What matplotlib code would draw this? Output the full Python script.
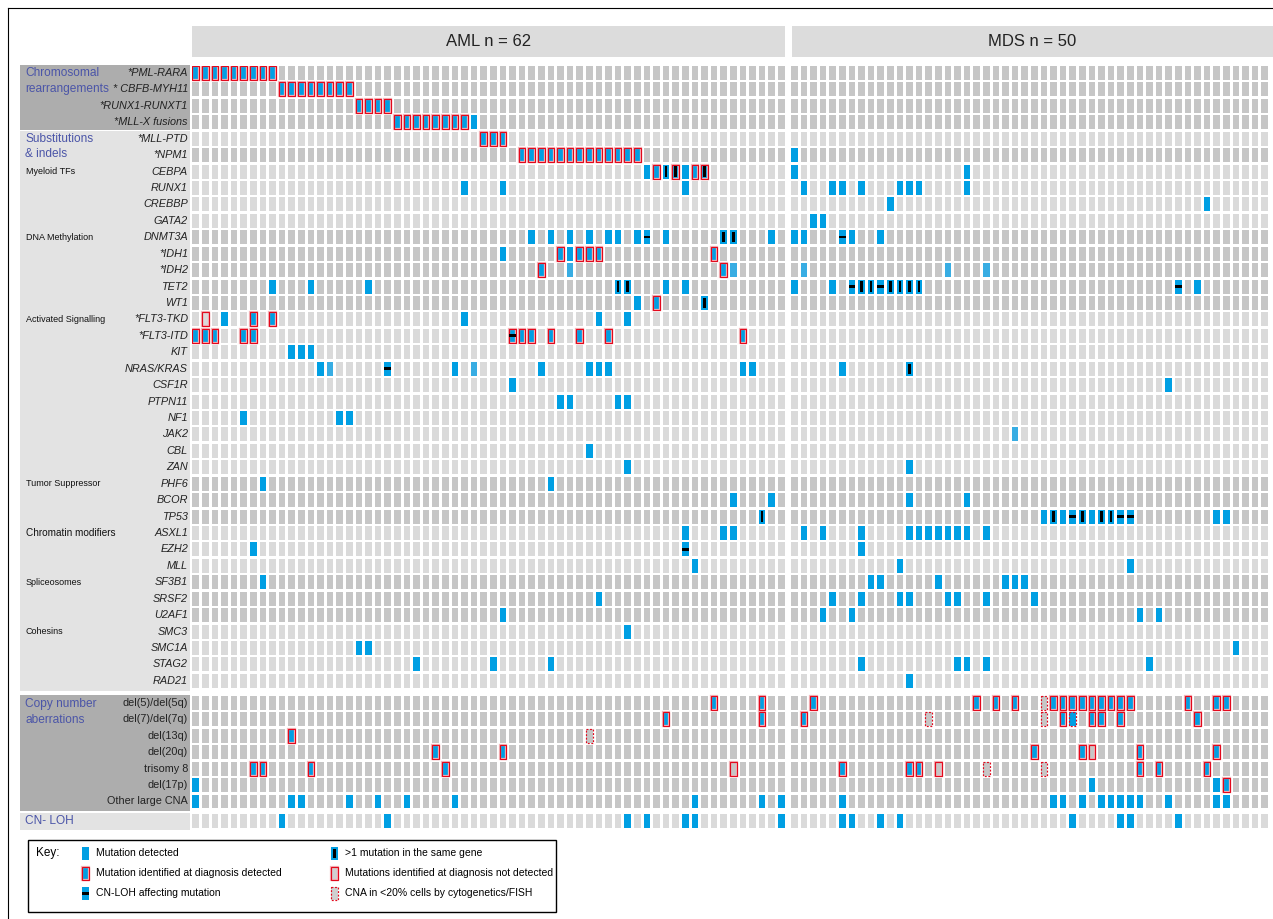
import matplotlib
matplotlib.use('Agg')
import matplotlib.pyplot as plt
from matplotlib.patches import Rectangle

plt.rcParams['font.family'] = ['Liberation Sans', 'DejaVu Sans']

# --- data -------------------------------------------------------------
# codes: b mutation, l mutation (pale), r detected at diagnosis, m >1 mutation,
# M r+m, h CN-LOH affecting mutation, H r+h, e identified at diagnosis not detected,
# d CNA in <20% cells, D d on a mutated cell
n_aml, n_mds = 62, 50

rearrangements = ['PML-RARA', 'CBFB-MYH11', 'RUNX1-RUNXT1', 'MLL-X fusions']
rearr_labels = ['*PML-RARA', '* CBFB-MYH11', '*RUNX1-RUNXT1', '*MLL-X fusions']

genes = ['MLL-PTD', 'NPM1', 'CEBPA', 'RUNX1', 'CREBBP', 'GATA2', 'DNMT3A', 'IDH1',
         'IDH2', 'TET2', 'WT1', 'FLT3-TKD', 'FLT3-ITD', 'KIT', 'NRAS/KRAS', 'CSF1R',
         'PTPN11', 'NF1', 'JAK2', 'CBL', 'ZAN', 'PHF6', 'BCOR', 'TP53', 'ASXL1',
         'EZH2', 'MLL', 'SF3B1', 'SRSF2', 'U2AF1', 'SMC3', 'SMC1A', 'STAG2', 'RAD21']
starred = ['MLL-PTD', 'NPM1', 'IDH1', 'IDH2', 'FLT3-TKD', 'FLT3-ITD']

cnas = ['del(5)/del(5q)', 'del(7)/del(7q)', 'del(13q)', 'del(20q)', 'trisomy 8',
        'del(17p)', 'Other large CNA']
cnloh = 'CN- LOH'

gene_groups = [('Myeloid TFs', 'CEBPA', 6.5), ('DNA Methylation', 'DNMT3A', 6.5),
               ('Activated Signalling', 'FLT3-TKD', 6.5), ('Tumor Suppressor', 'PHF6', 6.5),
               ('Chromatin modifiers', 'ASXL1', 7.2), ('Spliceosomes', 'SF3B1', 6.5),
               ('Cohesins', 'SMC3', 6.5)]

aml_calls = {
    'PML-RARA': 'r0-8',
    'CBFB-MYH11': 'r9-16',
    'RUNX1-RUNXT1': 'r17-20',
    'MLL-X fusions': 'r21-28 b29',
    'MLL-PTD': 'r30-32',
    'NPM1': 'r34-46',
    'CEBPA': 'b47 r48 m49 M50 b51 r52 M53',
    'RUNX1': 'b28 b32 b51',
    'DNMT3A': 'b35 b37 b39 b41 b43 b44 b46 h47 b49 m55 m56 b60',
    'IDH1': 'b32 r38 b39 r40-42 r54',
    'IDH2': 'r36 l39 r55 l56',
    'TET2': 'b8 b12 b18 m44 m45 b49 b51',
    'WT1': 'b46 r48 m53',
    'FLT3-TKD': 'e1 b3 r6 r8 b28 b42 b45',
    'FLT3-ITD': 'r0-2 r5 r6 H33 r34 r35 r37 r40 r43 r57',
    'KIT': 'b10-12',
    'NRAS/KRAS': 'b13 l14 h20 b27 l29 b36 b41-43 b57 b58',
    'CSF1R': 'b33',
    'PTPN11': 'b38 b39 b44 b45',
    'NF1': 'b5 b15 b16',
    'CBL': 'b41',
    'ZAN': 'b45',
    'PHF6': 'b7 b37',
    'BCOR': 'b56 b60',
    'TP53': 'm59',
    'ASXL1': 'b51 b55 b56',
    'EZH2': 'b6 h51',
    'MLL': 'b52',
    'SF3B1': 'b7',
    'SRSF2': 'b42',
    'U2AF1': 'b32',
    'SMC3': 'b45',
    'SMC1A': 'b17 b18',
    'STAG2': 'b23 b31 b37',
    'del(5)/del(5q)': 'r54 r59',
    'del(7)/del(7q)': 'r49 r59',
    'del(13q)': 'r10 d41',
    'del(20q)': 'r25 r32',
    'trisomy 8': 'r6 r7 r12 r26 e56',
    'del(17p)': 'b0',
    'Other large CNA': 'b0 b10 b11 b16 b19 b22 b27 b52 b59 b61',
    'CN- LOH': 'b9 b20 b45 b47 b51 b52 b61',
}

mds_calls = {
    'NPM1': 'b0',
    'CEBPA': 'b0 b18',
    'RUNX1': 'b1 b4 b5 b7 b11-13 b18',
    'CREBBP': 'b10 b43',
    'GATA2': 'b2 b3',
    'DNMT3A': 'b0 b1 h5 b6 b9',
    'IDH2': 'l1 l16 l20',
    'TET2': 'b0 b4 h6 m7 m8 h9 m10-13 h40 b42',
    'NRAS/KRAS': 'b5 m12',
    'CSF1R': 'b39',
    'JAK2': 'l23',
    'ZAN': 'b12',
    'BCOR': 'b12 b18',
    'TP53': 'b26 m27 b28 h29 m30 b31 m32 m33 h34 h35 b44 b45',
    'ASXL1': 'b1 b3 b7 b12-18 b20',
    'EZH2': 'b7',
    'MLL': 'b11 b35',
    'SF3B1': 'b8 b9 b15 b22-24',
    'SRSF2': 'b4 b7 b11 b12 b16 b17 b20 b25',
    'U2AF1': 'b3 b6 b36 b38',
    'SMC1A': 'b46',
    'STAG2': 'b7 b17 b18 b20 b37',
    'RAD21': 'b12',
    'del(5)/del(5q)': 'r2 r19 r21 r23 d26 r27-35 r41 r44 r45',
    'del(7)/del(7q)': 'r1 d14 d26 r28 D29 r31 r32 r34 r42',
    'del(20q)': 'r25 r30 e31 r36 r44',
    'trisomy 8': 'r5 r12 r13 e15 d20 d26 r36 r38 r43',
    'del(17p)': 'b31 b44 r45',
    'Other large CNA': 'b5 b27 b28 b30 b32-36 b39 b44 b45',
    'CN- LOH': 'b5 b6 b9 b11 b29 b34 b35 b40',
}

light_rows = ['MLL-PTD', 'CEBPA', 'RUNX1', 'CREBBP', 'GATA2', 'FLT3-TKD', 'FLT3-ITD',
              'KIT', 'NRAS/KRAS', 'CSF1R', 'PTPN11', 'NF1', 'JAK2', 'CBL', 'ZAN',
              'ASXL1', 'EZH2', 'MLL', 'SMC3', 'SMC1A', 'STAG2', 'RAD21', 'CN- LOH']

key_items = [('b', 'Mutation detected'), ('r', 'Mutation identified at diagnosis detected'),
             ('h', 'CN-LOH affecting mutation'), ('m', '>1 mutation in the same gene'),
             ('e', 'Mutations identified at diagnosis not detected'),
             ('d', 'CNA in <20% cells by cytogenetics/FISH')]

# --- styling ------------------------------------------------------------
BLUE, LBLUE = '#009FE3', '#38ADE3'
DARK, LIGHT = '#C6C6C6', '#DADADA'
RED, HALO = '#E2081C', '#F4B6BB'
PURPLE = '#4B55A8'


def parse(s):
    out = []
    for tok in s.split():
        code, rng = tok[0], tok[1:]
        if '-' in rng:
            a, b = map(int, rng.split('-'))
            out += [(c, code) for c in range(a, b + 1)]
        else:
            out.append((int(rng), code))
    return out


def draw_mark(a, x, y, w, h, code, base, lw=0.85):
    fill = BLUE if code in 'brmMhHD' else (LBLUE if code == 'l' else base)
    a.add_patch(Rectangle((x, y), w, h, facecolor=fill, edgecolor='none', zorder=2))
    if code in 'rMHe':
        a.add_patch(Rectangle((x, y), w, h, fill=False, edgecolor=HALO, lw=lw * 1.9, zorder=3))
        a.add_patch(Rectangle((x, y), w, h, fill=False, edgecolor=RED, lw=lw, zorder=4))
    if code in 'dD':
        a.add_patch(Rectangle((x, y), w, h, fill=False, edgecolor=RED, lw=lw,
                              linestyle=(0, (1.6, 1.4)), zorder=4))
    if code in 'mM':
        a.add_patch(Rectangle((x + 0.3 * w, y + 0.13 * h), 0.4 * w, 0.74 * h,
                              facecolor='black', edgecolor='none', zorder=5))
    if code in 'hH':
        a.add_patch(Rectangle((x, y + 0.4 * h), w, 0.18 * h,
                              facecolor='black', edgecolor='none', zorder=5))


# --- figure -------------------------------------------------------------
W, H = 1273, 919
fig = plt.figure(figsize=(W / 100, H / 100), dpi=100)
bg = fig.add_axes([0, 0, 1, 1])
bg.set_xlim(0, W)
bg.set_ylim(H, 0)
bg.axis('off')

X0, PX = 192.3, 9.6
Y0, PY = 66.0, 16.43
GAP = 0.36
XMAX = n_aml + GAP + n_mds
YMAX = 46.6
CW, CH = 0.7, 0.85
ax = fig.add_axes([X0 / W, 1 - (Y0 + PY * YMAX) / H, PX * XMAX / W, PY * YMAX / H])
ax.set_xlim(0, XMAX)
ax.set_ylim(YMAX, 0)
ax.axis('off')

rows = rearrangements + genes + cnas + [cnloh]


def row_pos(i):
    if i < 38:
        return i
    return i + 0.34 if i < 45 else i + 0.53


def row_px(i):
    return Y0 + PY * (row_pos(i) + CH / 2)


for i, name in enumerate(rows):
    base = LIGHT if name in light_rows else DARK
    y = row_pos(i)
    for cohort, n, calls, off in [('AML', n_aml, aml_calls, 0), ('MDS', n_mds, mds_calls, n_aml + GAP)]:
        hits = dict(parse(calls.get(name, '')))
        for c in range(n):
            code = hits.get(c)
            if code is None:
                ax.add_patch(Rectangle((off + c, y), CW, CH, facecolor=base, edgecolor='none', zorder=1))
            else:
                draw_mark(ax, off + c, y, CW, CH, code, base)

# header boxes
bg.add_patch(Rectangle((192, 26), 593, 31, facecolor='#DCDCDC', edgecolor='none'))
bg.add_patch(Rectangle((792, 26), 481, 31, facecolor='#DCDCDC', edgecolor='none'))
bg.text(488.5, 42, 'AML n = 62', ha='center', va='center', fontsize=12, color='#222222')
bg.text(1032, 42, 'MDS n = 50', ha='center', va='center', fontsize=12, color='#222222')

# left label panel
bg.add_patch(Rectangle((20, 65), 170, 65, facecolor='#ADADAD', edgecolor='none'))
bg.add_patch(Rectangle((20, 131), 170, 560, facecolor='#E3E3E3', edgecolor='none'))
bg.add_patch(Rectangle((20, 695), 170, 116, facecolor='#ADADAD', edgecolor='none'))
bg.add_patch(Rectangle((20, 813), 170, 17, facecolor='#E3E3E3', edgecolor='none'))

for txt, ty in [('Chromosomal', 73), ('rearrangements', 89), ('Substitutions', 139),
                ('& indels', 154), ('Copy number', 704), ('aberrations', 720), (cnloh, 821)]:
    bg.text(25, ty, txt, fontsize=8.6, color=PURPLE, va='center')

for i, lab in enumerate(rearr_labels):
    bg.text(188, row_px(i), lab, ha='right', va='center', fontsize=7.8, style='italic', color='#222222')
for j, g in enumerate(genes):
    lab = ('*' + g) if g in starred else g
    bg.text(188, row_px(4 + j), lab, ha='right', va='center', fontsize=7.8, style='italic', color='#222222')
for j, c in enumerate(cnas):
    bg.text(188, row_px(38 + j), c, ha='right', va='center', fontsize=7.8, color='#222222')
for txt, g, fs in gene_groups:
    bg.text(26, row_px(4 + genes.index(g)), txt, va='center', fontsize=fs, color='#111111')

# key
bg.add_patch(Rectangle((28, 840), 528, 72, facecolor='white', edgecolor='black', lw=1))
bg.text(36, 853, 'Key:', va='center', fontsize=8.5)
for k, (code, txt) in enumerate(key_items):
    kx = 82 if k < 3 else 331
    ky = 847 + 20 * (k % 3)
    draw_mark(bg, kx, ky, 7, 13, code, '#D0D0D0')
    bg.text(kx + 14, ky + 6.5, txt, va='center', fontsize=7.5)

# frame lines
bg.plot([8, 8], [8, 919], color='black', lw=0.8)
bg.plot([8, 1273], [8, 8], color='black', lw=0.8)

fig.savefig('out.png', dpi=100)
